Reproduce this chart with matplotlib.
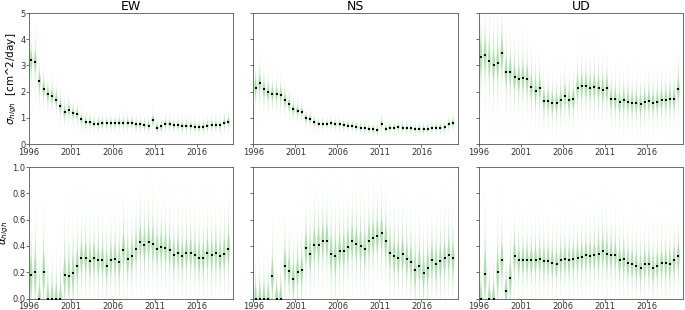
import matplotlib
matplotlib.use("Agg")
import matplotlib.pyplot as plt
import numpy as np

# half-year epochs 1996.25 ... 2019.75
epochs = np.arange(1996.25, 2020.0, 0.5)

# sigma_high [cm^2/day]
ew_sig = [3.2, 3.15, 2.4, 2.12, 1.9, 1.83, 1.7, 1.45, 1.22, 1.3, 1.18, 1.15,
          0.95, 0.85, 0.83, 0.78, 0.78, 0.8, 0.8, 0.8, 0.8, 0.82, 0.82, 0.82,
          0.82, 0.75, 0.75, 0.72, 0.7, 0.92, 0.63, 0.68, 0.77, 0.77, 0.72, 0.72,
          0.7, 0.7, 0.7, 0.67, 0.65, 0.67, 0.7, 0.73, 0.73, 0.73, 0.82, 0.85]
ns_sig = [2.16, 2.32, 2.11, 1.97, 1.92, 1.91, 1.89, 1.68, 1.52, 1.34, 1.28, 1.24,
          1.0, 0.96, 0.84, 0.78, 0.77, 0.77, 0.8, 0.77, 0.76, 0.73, 0.71, 0.7,
          0.66, 0.63, 0.61, 0.58, 0.57, 0.54, 0.78, 0.58, 0.63, 0.63, 0.66, 0.63,
          0.61, 0.6, 0.58, 0.58, 0.57, 0.58, 0.62, 0.63, 0.63, 0.64, 0.76, 0.81]
ud_sig = [3.32, 3.39, 3.18, 3.03, 3.11, 3.46, 2.76, 2.77, 2.56, 2.49, 2.54, 2.49,
          2.19, 2.04, 2.13, 1.66, 1.65, 1.56, 1.56, 1.68, 1.84, 1.67, 1.72, 2.16,
          2.22, 2.22, 2.14, 2.19, 2.14, 2.06, 2.13, 1.73, 1.71, 1.59, 1.67, 1.62,
          1.56, 1.56, 1.53, 1.62, 1.66, 1.57, 1.61, 1.70, 1.70, 1.72, 1.72, 2.10]

# spread of the posterior (green) around sigma_high
ew_sig_sd = [0.32, 0.32, 0.25, 0.22, 0.2, 0.2, 0.18, 0.17, 0.15, 0.15, 0.14, 0.13,
             0.12, 0.11, 0.1, 0.1, 0.1, 0.1, 0.1, 0.1, 0.1, 0.1, 0.1, 0.1,
             0.1, 0.1, 0.1, 0.1, 0.1, 0.12, 0.1, 0.1, 0.1, 0.1, 0.1, 0.1,
             0.1, 0.1, 0.1, 0.1, 0.1, 0.1, 0.1, 0.1, 0.1, 0.1, 0.11, 0.12]
ns_sig_sd = [0.25, 0.27, 0.24, 0.22, 0.2, 0.2, 0.2, 0.18, 0.16, 0.14, 0.13, 0.12,
             0.11, 0.1, 0.09, 0.08, 0.08, 0.08, 0.08, 0.08, 0.08, 0.08, 0.08, 0.08,
             0.08, 0.08, 0.08, 0.08, 0.08, 0.08, 0.1, 0.08, 0.08, 0.08, 0.08, 0.08,
             0.08, 0.08, 0.08, 0.08, 0.08, 0.08, 0.08, 0.08, 0.08, 0.08, 0.09, 0.1]
ud_sig_sd = [0.5, 0.5, 0.5, 0.5, 0.5, 0.5, 0.42, 0.42, 0.4, 0.4, 0.4, 0.4,
             0.36, 0.34, 0.34, 0.3, 0.3, 0.3, 0.3, 0.3, 0.32, 0.3, 0.3, 0.35,
             0.35, 0.35, 0.35, 0.35, 0.35, 0.35, 0.35, 0.3, 0.3, 0.3, 0.3, 0.3,
             0.3, 0.3, 0.3, 0.3, 0.3, 0.3, 0.3, 0.3, 0.3, 0.3, 0.3, 0.35]

# alpha_high
ew_alp = [0.18, 0.2, 0.0, 0.2, 0.0, 0.0, 0.0, 0.0, 0.18, 0.17, 0.195, 0.25,
          0.31, 0.31, 0.285, 0.31, 0.29, 0.29, 0.25, 0.295, 0.3, 0.275, 0.37, 0.30,
          0.32, 0.38, 0.43, 0.405, 0.43, 0.415, 0.38, 0.39, 0.385, 0.37, 0.33, 0.35,
          0.325, 0.345, 0.35, 0.33, 0.31, 0.31, 0.345, 0.33, 0.345, 0.32, 0.34, 0.38]
ns_alp = [0.0, 0.0, 0.0, 0.0, 0.17, 0.0, 0.0, 0.25, 0.21, 0.15, 0.205, 0.215,
          0.385, 0.335, 0.41, 0.41, 0.44, 0.44, 0.34, 0.32, 0.36, 0.36, 0.395, 0.435,
          0.415, 0.40, 0.38, 0.44, 0.46, 0.475, 0.495, 0.44, 0.35, 0.32, 0.31, 0.335,
          0.30, 0.28, 0.215, 0.25, 0.195, 0.235, 0.29, 0.26, 0.285, 0.305, 0.33, 0.305]
ud_alp = [0.0, 0.19, 0.0, 0.0, 0.2, 0.29, 0.055, 0.155, 0.325, 0.29, 0.29, 0.29,
          0.29, 0.295, 0.297, 0.285, 0.285, 0.27, 0.26, 0.29, 0.297, 0.29, 0.30, 0.31,
          0.317, 0.33, 0.325, 0.33, 0.337, 0.36, 0.335, 0.33, 0.33, 0.29, 0.297, 0.27,
          0.26, 0.247, 0.232, 0.26, 0.26, 0.23, 0.25, 0.267, 0.267, 0.26, 0.29, 0.32]

ew_alp_sd = [0.12, 0.12, 0.09, 0.12, 0.09, 0.09, 0.09, 0.09, 0.11, 0.11, 0.11, 0.1,
             0.09, 0.09, 0.09, 0.09, 0.09, 0.09, 0.09, 0.09, 0.09, 0.09, 0.1, 0.09,
             0.09, 0.09, 0.1, 0.1, 0.1, 0.1, 0.09, 0.09, 0.09, 0.09, 0.09, 0.09,
             0.09, 0.09, 0.09, 0.09, 0.09, 0.09, 0.09, 0.09, 0.09, 0.09, 0.09, 0.1]
ns_alp_sd = [0.08, 0.08, 0.08, 0.08, 0.1, 0.08, 0.08, 0.1, 0.09, 0.09, 0.09, 0.09,
             0.1, 0.1, 0.1, 0.1, 0.1, 0.1, 0.11, 0.11, 0.1, 0.1, 0.1, 0.1,
             0.1, 0.1, 0.1, 0.1, 0.1, 0.1, 0.1, 0.1, 0.1, 0.1, 0.1, 0.1,
             0.1, 0.1, 0.1, 0.1, 0.1, 0.1, 0.1, 0.1, 0.1, 0.1, 0.1, 0.1]
ud_alp_sd = [0.08, 0.14, 0.08, 0.08, 0.12, 0.1, 0.08, 0.1, 0.09, 0.08, 0.08, 0.08,
             0.08, 0.08, 0.08, 0.08, 0.08, 0.08, 0.08, 0.08, 0.08, 0.08, 0.08, 0.08,
             0.08, 0.08, 0.08, 0.08, 0.09, 0.09, 0.09, 0.08, 0.08, 0.08, 0.08, 0.08,
             0.08, 0.08, 0.08, 0.08, 0.08, 0.08, 0.08, 0.08, 0.08, 0.08, 0.08, 0.08]

titles = ["EW", "NS", "UD"]
xticks = [1996, 2001, 2006, 2011, 2016]
green = "#5cbf5c"

plt.rcParams["font.family"] = "DejaVu Sans"


def spindle(ax, x, c, s):
    # nested diamonds -> soft violin-like shape
    for k, w, a in [(6.5, 0.05, 0.07), (4.0, 0.10, 0.12), (2.5, 0.16, 0.18), (1.3, 0.23, 0.27)]:
        ax.fill([x - w, x, x + w, x], [c, c + k * s, c, c - k * s],
                color=green, alpha=a, lw=0, zorder=1)


fig = plt.figure(figsize=(6.85, 3.1), dpi=100)
lefts = [0.0423, 0.370, 0.699]
width = 0.298
rows = [(0.535, 0.423), (0.037, 0.424)]

top = [(ew_sig, ew_sig_sd), (ns_sig, ns_sig_sd), (ud_sig, ud_sig_sd)]
bot = [(ew_alp, ew_alp_sd), (ns_alp, ns_alp_sd), (ud_alp, ud_alp_sd)]

for r, data in enumerate([top, bot]):
    for c, (vals, sds) in enumerate(data):
        ax = fig.add_axes([lefts[c], rows[r][0], width, rows[r][1]])
        for x, v, s in zip(epochs, vals, sds):
            spindle(ax, x, v, s)
        ax.plot(epochs, vals, "s", color="black", ms=1.8, mew=0, zorder=3)
        ax.set_xlim(1996, 2020.3)
        ax.set_xticks(xticks)
        if r == 0:
            ax.set_ylim(0, 5)
            ax.set_yticks(range(6))
            ax.set_title(titles[c], fontsize=9, pad=2)
        else:
            ax.set_ylim(0, 1)
            ax.set_yticks([0, 0.2, 0.4, 0.6, 0.8, 1.0])
        ax.tick_params(labelsize=6, length=2, width=0.5, pad=0.5, colors="#333333")
        if c > 0:
            ax.set_yticklabels([])
        for sp in ax.spines.values():
            sp.set_linewidth(0.6)
            sp.set_color("#555555")
        if c == 0:
            if r == 0:
                ax.set_ylabel(r"$\sigma_{high}$  [cm^2/day]", fontsize=7.5, labelpad=1)
            else:
                ax.set_ylabel(r"$\alpha_{high}$", fontsize=7.5, labelpad=1)

fig.savefig("out.png", dpi=100)
